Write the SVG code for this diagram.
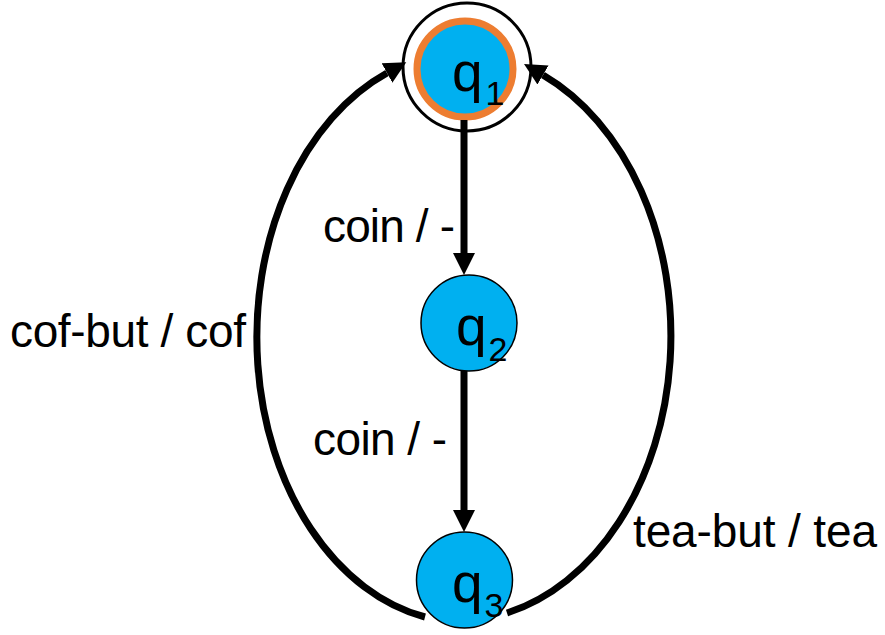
<svg xmlns="http://www.w3.org/2000/svg" width="885" height="635" viewBox="0 0 885 635">
  <style>
    .edge { fill: none; stroke: #000; stroke-width: 7; stroke-linecap: butt; marker-end: url(#arrow); }
    .state { fill: #00B0F0; stroke: #000; stroke-width: 1.5; }
    .lbl { font-family: "Liberation Sans", Arial, sans-serif; font-size: 46px; fill: #000; }
    .name { font-family: "Liberation Sans", Arial, sans-serif; font-size: 55px; fill: #000; }
    .sub { font-size: 34px; }
  </style>
  <defs>
    <marker id="arrow" markerUnits="userSpaceOnUse" viewBox="0 -12 24 24" refX="0" refY="0" markerWidth="24" markerHeight="24" orient="auto">
      <path d="M0,-11 L22,0 L0,11 Z" fill="#000"/>
    </marker>
  </defs>

  <rect width="885" height="635" fill="#fff"/>

  <!-- states -->
  <g id="q1">
    <circle cx="467" cy="67" r="64" fill="#fff" stroke="#000" stroke-width="3"/>
    <circle cx="465" cy="69" r="48" fill="#00B0F0" stroke="#ED7D31" stroke-width="7"/>
    <text class="name" x="452" y="91">q<tspan class="sub" dx="3" dy="14">1</tspan></text>
  </g>
  <g id="q2">
    <circle class="state" cx="469" cy="323" r="48"/>
    <text class="name" x="456" y="345">q<tspan class="sub" dx="2" dy="16">2</tspan></text>
  </g>
  <g id="q3">
    <circle class="state" cx="464.5" cy="580" r="48"/>
    <text class="name" x="452" y="602">q<tspan class="sub" dx="2" dy="15">3</tspan></text>
  </g>

  <!-- transitions -->
  <g id="edges">
    <path class="edge" d="M464,120 L464,253"/>
    <path class="edge" d="M464,371 L464,510"/>
    <path class="edge" d="M425,617 A208,285 0 0 1 387,73"/>
    <path class="edge" d="M507,613 A214,285 0 0 0 543,75"/>
  </g>

  <!-- transition labels -->
  <g id="labels">
    <text class="lbl" x="323" y="242" textLength="132">coin / -</text>
    <text class="lbl" x="313" y="455" textLength="134">coin / -</text>
    <text class="lbl" x="10" y="347" textLength="236">cof-but / cof</text>
    <text class="lbl" x="633" y="547" textLength="244">tea-but / tea</text>
  </g>
</svg>
